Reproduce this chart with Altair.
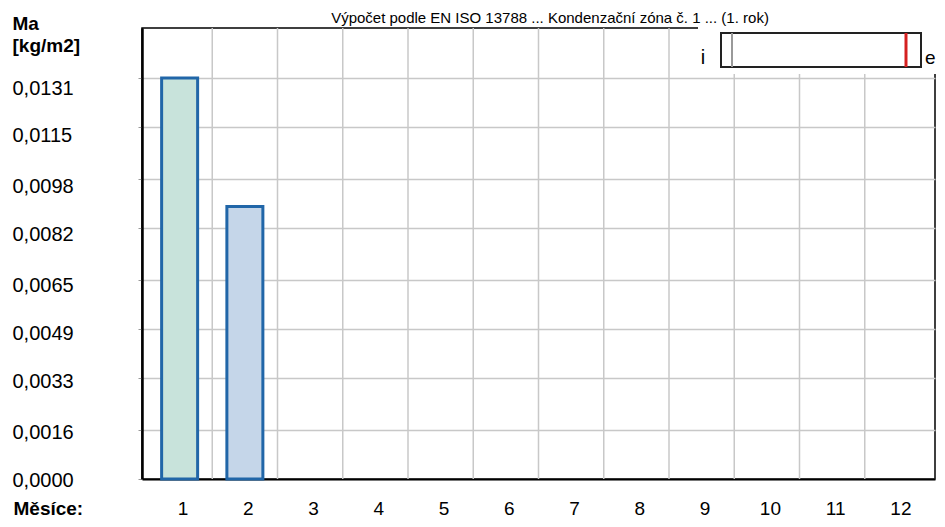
import altair as alt
import pandas as pd

# ---- data ----
months = list(range(1, 13))
ma_values = [0.0131, 0.0089, 0, 0, 0, 0, 0, 0, 0, 0, 0, 0]
y_ticks = [0.0, 0.0016, 0.0033, 0.0049, 0.0065, 0.0082, 0.0098, 0.0115, 0.0131]
y_top = 0.014734
bar_groups = [1, 2]
title_text = "Výpočet podle EN ISO 13788 ... Kondenzační zóna č. 1 ... (1. rok)"
x_title = "Měsíce:"
y_title = ["Ma", "[kg/m2]"]

FONT = "Liberation Sans"
GRID = "#c8c8c8"
BAR_STROKE = "#2166a8"
FILL_GREEN = "#c8e3db"
FILL_BLUE = "#c5d6e9"

df = pd.DataFrame({"month": months, "ma": ma_values})
bounds = pd.DataFrame({"month": [m + 0.5 for m in months[:-1]]})
one = pd.DataFrame({"k": [0]})

x_scale = alt.Scale(domain=[0.5, 12.5], nice=False, zero=False)
y_scale = alt.Scale(domain=[0, y_top], nice=False, zero=True)

x_axis = alt.Axis(
    values=months, format="d", grid=False, ticks=False,
    domainColor="black", domainWidth=2,
    labelPadding=35, labelBaseline="alphabetic", labelOffset=3,
    labelFontSize=19, labelFont=FONT,
    labelColor="black", labelFlush=False, labelOverlap=False,
    title=x_title, titleX=-129, titleY=35, titleAlign="left",
    titleBaseline="alphabetic", titleFontWeight="bold", titleFontSize=19,
    titleFont=FONT, titleColor="black")

y_axis = alt.Axis(
    values=y_ticks, grid=True, gridColor=GRID, gridWidth=1.5,
    ticks=True, tickSize=4, tickColor="#999999",
    domainColor="black", domainWidth=2.5,
    labelAlign="left", labelPadding=126, labelBaseline="middle",
    labelOffset=alt.ExprRef("1 + datum.value / 0.0131 * 9"),
    labelExpr="replace(format(datum.value, '.4f'), '.', ',')",
    labelFontSize=20, labelFont=FONT, labelColor="black",
    labelFlush=False, labelOverlap=False,
    title=y_title, titleAngle=0, titleX=-130, titleY=1,
    titleAlign="left", titleBaseline="alphabetic", titleLineHeight=22,
    titleFontWeight="bold", titleFontSize=19, titleFont=FONT,
    titleColor="black")

bars = alt.Chart(df).transform_filter("datum.ma > 0").mark_bar(
    size=36, stroke=BAR_STROKE, strokeWidth=3
).encode(
    x=alt.X("month:Q", scale=x_scale, axis=x_axis),
    y=alt.Y("ma:Q", scale=y_scale, axis=y_axis),
    color=alt.Color("month:N", scale=alt.Scale(domain=bar_groups,
                                               range=[FILL_GREEN, FILL_BLUE]),
                    legend=None),
)

vgrid = alt.Chart(bounds).mark_rule(color=GRID, strokeWidth=1.5).encode(
    x=alt.X("month:Q", scale=x_scale, axis=x_axis)
)

inset_bg = alt.Chart(one).mark_rect(fill="white", stroke=None).encode(
    x=alt.value(556), x2=alt.value(806), y=alt.value(-10), y2=alt.value(46)
)
inset_box = alt.Chart(one).mark_rect(fill="white", stroke="#222222", strokeWidth=2).encode(
    x=alt.value(579), x2=alt.value(779), y=alt.value(5), y2=alt.value(39)
)
inset_gray = alt.Chart(one).mark_rule(color="#999999", strokeWidth=2).encode(
    x=alt.value(590), y=alt.value(5), y2=alt.value(39)
)
inset_red = alt.Chart(one).mark_rule(color="#d42020", strokeWidth=3).encode(
    x=alt.value(764), y=alt.value(5), y2=alt.value(39)
)
inset_i = alt.Chart(one).mark_text(text="i", font=FONT, fontSize=20, align="center",
                                   baseline="alphabetic", color="black").encode(
    x=alt.value(561), y=alt.value(36)
)
inset_e = alt.Chart(one).mark_text(text="e", font=FONT, fontSize=19, align="left",
                                   baseline="alphabetic", color="black").encode(
    x=alt.value(783), y=alt.value(36)
)
title_mark = alt.Chart(one).mark_text(text=title_text, font=FONT, fontSize=15,
                                      align="center", baseline="alphabetic",
                                      color="black").encode(
    x=alt.value(408), y=alt.value(-5)
)

chart = alt.layer(
    bars, vgrid, inset_bg, inset_box, inset_gray, inset_red, inset_i, inset_e,
    title_mark
).properties(
    width=793, height=451,
    padding={"left": 134, "top": 20, "right": 2, "bottom": 40},
    autosize=alt.AutoSizeParams(type="none"),
).configure(font=FONT).configure_view(stroke="black", strokeWidth=1.5)

chart.save("out.html", embed_options={"renderer": "svg", "actions": False})
